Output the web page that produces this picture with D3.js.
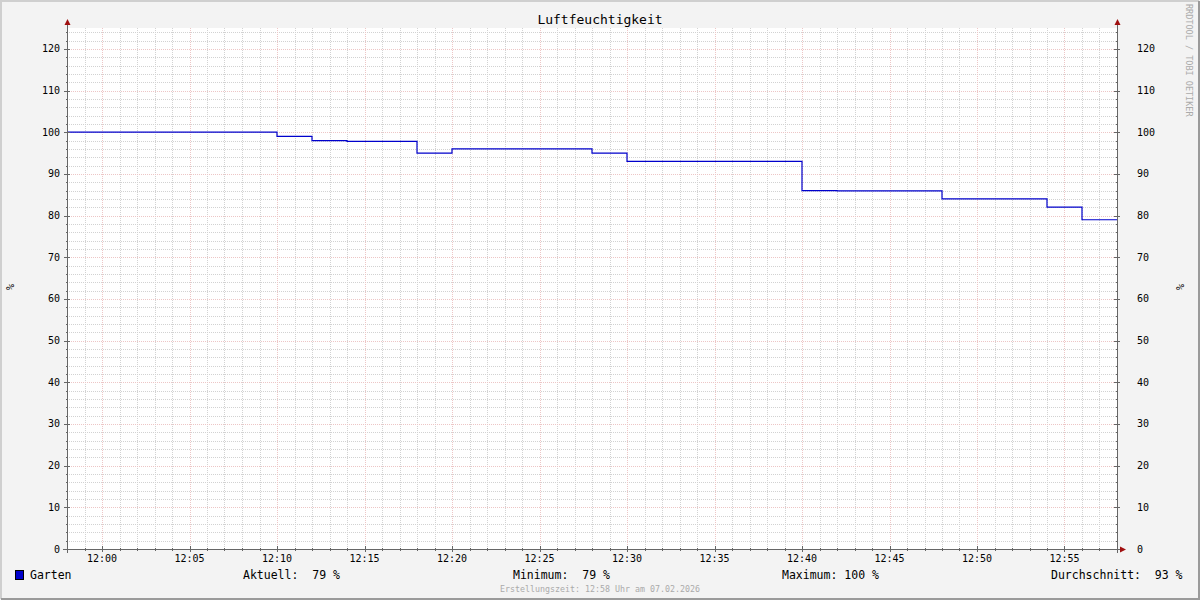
<!DOCTYPE html>
<html><head><meta charset="utf-8">
<script src="https://cdn.jsdelivr.net/npm/d3@7"></script>
<style>body{margin:0;background:#f3f3f3}svg{display:block}text{font-family:"DejaVu Sans Mono",monospace}</style>
</head><body><svg id="c" width="1200" height="600"></svg>
<script>
const title = "Luftfeuchtigkeit";
const unit = "%";
const seriesName = "Garten";
const times = ["11:58","12:00","12:02","12:04","12:06","12:08","12:10","12:12","12:14","12:16","12:18","12:20","12:22","12:24","12:26","12:28","12:30","12:32","12:34","12:36","12:38","12:40","12:42","12:44","12:46","12:48","12:50","12:52","12:54","12:56","12:58"];
const values = [100,100,100,100,100,100,99,98,97.8,97.8,95,96,96,96,96,95,93,93,93,93,93,86,85.9,85.9,85.9,84,84,84,82,79,79];
const yTicks = [0,10,20,30,40,50,60,70,80,90,100,110,120];
const xTickLabels = ["12:00","12:05","12:10","12:15","12:20","12:25","12:30","12:35","12:40","12:45","12:50","12:55"];
const legendLabels = ["Aktuell:  79 %","Minimum:  79 %","Maximum: 100 %","Durchschnitt:  93 %"];
const footer = "Erstellungszeit: 12:58 Uhr am 07.02.2026";
const watermark = "RRDTOOL / TOBI OETIKER";

const parse = s => { const [h,m] = s.split(":").map(Number); return new Date(2026,1,7,h,m); };
const svg = d3.select("#c");
const L=67,R=1117,T=28,B=549;
const x = d3.scaleTime().domain([parse("11:58"),parse("12:58")]).range([L,R]);
const y = d3.scaleLinear().domain([0,125]).range([B,T]);

// frame
svg.append("rect").attr("x",0).attr("y",0).attr("width",1200).attr("height",600).attr("fill","#f3f3f3");
svg.append("path").attr("d","M1,599 V1 H1199").attr("stroke","#cfcfcf").attr("stroke-width",2).attr("fill","none");
svg.append("path").attr("d","M1,599 H1199 V1").attr("stroke","#9a9a9a").attr("stroke-width",2).attr("fill","none");
svg.append("rect").attr("x",L).attr("y",T).attr("width",R-L).attr("height",B-T).attr("fill","#fff");

const g = svg.append("g");
// minor grid
const minorY = d3.range(0,126,2).filter(v=>v%10!==0);
g.selectAll(".hy").data(minorY).join("line").attr("x1",L).attr("x2",R)
 .attr("y1",d=>Math.round(y(d))+0.5).attr("y2",d=>Math.round(y(d))+0.5)
 .attr("stroke","#d2d2d2").attr("stroke-dasharray","1,1");
const minorX = d3.range(0,61).map(i=>new Date(parse("11:58").getTime()+i*60000)).filter(d=>d.getMinutes()%5!==0);
g.selectAll(".vx").data(minorX).join("line").attr("y1",T).attr("y2",B)
 .attr("x1",d=>Math.round(x(d))+0.5).attr("x2",d=>Math.round(x(d))+0.5)
 .attr("stroke","#d2d2d2").attr("stroke-dasharray","1,1");
// major grid
g.selectAll(".my").data(yTicks.filter(v=>v>0)).join("line").attr("x1",L).attr("x2",R)
 .attr("y1",d=>Math.round(y(d))+0.5).attr("y2",d=>Math.round(y(d))+0.5)
 .attr("stroke","#edc6c6").attr("stroke-dasharray","1,1");
g.selectAll(".mx").data(xTickLabels).join("line").attr("y1",T).attr("y2",B)
 .attr("x1",d=>Math.round(x(parse(d)))+0.5).attr("x2",d=>Math.round(x(parse(d)))+0.5)
 .attr("stroke","#edc6c6").attr("stroke-dasharray","1,1");

// data line
const pts = times.map((t,i)=>({t:parse(t),v:values[i]}));
svg.append("path").datum(pts).attr("fill","none").attr("stroke","#0000cc").attr("stroke-width",1.2)
 .attr("d",d3.line().x(d=>x(d.t)).y(d=>y(d.v)).curve(d3.curveStepAfter));

// axes lines
const ax = svg.append("g").attr("stroke","#666").attr("stroke-width",1);
ax.append("line").attr("x1",L+0.5).attr("x2",L+0.5).attr("y1",B+4).attr("y2",T-6);
ax.append("line").attr("x1",R+0.5).attr("x2",R+0.5).attr("y1",B+4).attr("y2",T-6);
ax.append("line").attr("x1",L-4).attr("x2",R+6).attr("y1",B+0.5).attr("y2",B+0.5);
// tick marks
ax.selectAll(".yt").data(yTicks).join("line").attr("x1",L-3).attr("x2",L+3)
 .attr("y1",d=>Math.round(y(d))+0.5).attr("y2",d=>Math.round(y(d))+0.5);
ax.selectAll(".yt2").data(yTicks).join("line").attr("x1",R-3).attr("x2",R+3)
 .attr("y1",d=>Math.round(y(d))+0.5).attr("y2",d=>Math.round(y(d))+0.5);
ax.selectAll(".yt3").data(minorY).join("line").attr("x1",L-1).attr("x2",L+1)
 .attr("y1",d=>Math.round(y(d))+0.5).attr("y2",d=>Math.round(y(d))+0.5);
ax.selectAll(".yt4").data(minorY).join("line").attr("x1",R-1).attr("x2",R+1)
 .attr("y1",d=>Math.round(y(d))+0.5).attr("y2",d=>Math.round(y(d))+0.5);
ax.selectAll(".xt").data(xTickLabels).join("line").attr("y1",B-3).attr("y2",B+3)
 .attr("x1",d=>Math.round(x(parse(d)))+0.5).attr("x2",d=>Math.round(x(parse(d)))+0.5);
ax.selectAll(".xt2").data(minorX).join("line").attr("y1",B-1).attr("y2",B+2)
 .attr("x1",d=>Math.round(x(d))+0.5).attr("x2",d=>Math.round(x(d))+0.5);
// arrows
const arr = svg.append("g").attr("fill","#a01010");
arr.append("path").attr("d",`M${L+0.5-3},${T-3} L${L+0.5+3},${T-3} L${L+0.5},${T-9} Z`);
arr.append("path").attr("d",`M${R+0.5-3},${T-3} L${R+0.5+3},${T-3} L${R+0.5},${T-9} Z`);
arr.append("path").attr("d",`M${R+3},${B+0.5-3} L${R+3},${B+0.5+3} L${R+9},${B+0.5} Z`);

// tick labels
const tf = svg.append("g").attr("font-size","10px").attr("fill","#000");
tf.selectAll(".yl").data(yTicks).join("text").attr("x",60).attr("y",d=>y(d)).attr("dy","0.35em")
 .attr("text-anchor","end").text(d=>d);
tf.selectAll(".yr").data(yTicks).join("text").attr("x",1137).attr("y",d=>y(d)).attr("dy","0.35em")
 .attr("text-anchor","start").text(d=>d);
tf.selectAll(".xl").data(xTickLabels).join("text").attr("x",d=>x(parse(d))).attr("y",562)
 .attr("text-anchor","middle").text(d=>d);

// unit labels
svg.append("text").attr("transform","translate(10,287) rotate(-90)").attr("font-size","10px").attr("text-anchor","middle").attr("dy","0.35em").text(unit);
svg.append("text").attr("transform","translate(1180,287) rotate(-90)").attr("font-size","10px").attr("text-anchor","middle").attr("dy","0.35em").text(unit);

// title
svg.append("text").attr("x",600).attr("y",24).attr("text-anchor","middle").attr("font-size","13px").text(title);

// legend
svg.append("rect").attr("x",15.5).attr("y",570.5).attr("width",8).attr("height",9).attr("fill","#0000cc").attr("stroke","#000");
svg.append("text").attr("x",30).attr("y",579).attr("font-size","11.5px").text(seriesName);
const lx = [243,513,782,1051];
svg.selectAll(".lg").data(legendLabels).join("text").attr("x",(d,i)=>lx[i]).attr("y",579)
 .attr("font-size","11.5px").attr("xml:space","preserve").style("white-space","pre").text(d=>d);

// footer
svg.append("text").attr("x",600).attr("y",592).attr("text-anchor","middle").attr("font-size","8.3px").attr("fill","#aaa").text(footer);
// watermark
svg.append("text").attr("transform","translate(1189,4) rotate(90)").attr("font-size","8.5px").attr("fill","#aaa").attr("dy","0.35em").text(watermark);
</script></body></html>
